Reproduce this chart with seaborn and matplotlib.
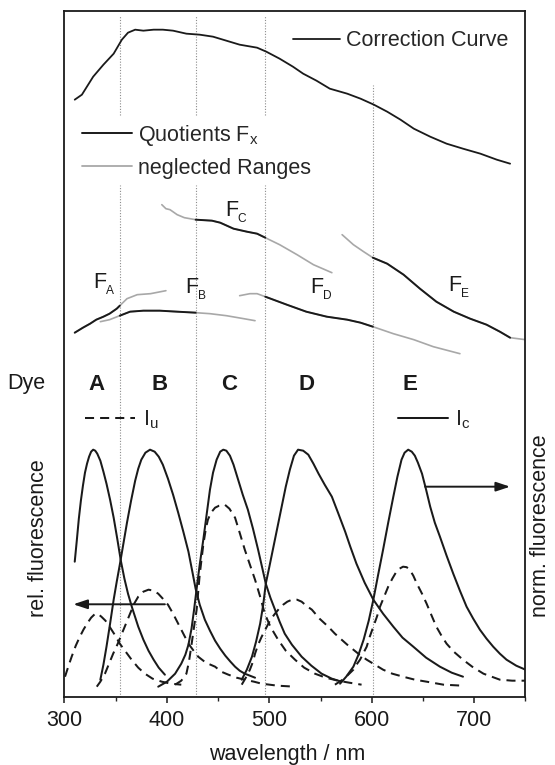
import numpy as np
import matplotlib
matplotlib.use("Agg")
import matplotlib.pyplot as plt
from matplotlib.lines import Line2D
from matplotlib.ticker import MultipleLocator
import seaborn as sns

# ---------------- data (wavelength in nm, signal in arbitrary units) ----------------
corr_wl = [310, 317, 328, 338, 348, 356, 362, 369, 377, 387, 396, 406, 419, 432, 445, 458, 471, 488,
           497, 510, 523, 533, 546, 559, 576, 589, 602, 615, 628, 641, 657, 673, 689, 706, 722, 735]
corr_y = [597, 602, 620, 632, 643, 657, 664, 667, 666, 667, 667, 666, 663, 662, 660, 656, 652, 649,
          645, 638, 630, 623, 616, 608, 603, 598, 592, 585, 577, 568, 560, 553, 548, 543, 537, 533]

fa_wl = [310, 318, 325, 331, 338, 344, 351, 354, 361, 371, 384, 399]
fa_y = [364, 369, 373, 377, 380, 383, 388, 391, 398, 402, 403, 406]
fb_wl = [335, 344, 354, 364, 377, 393, 410, 428, 442, 458, 475, 486]
fb_y = [375, 377, 381, 385, 386, 386, 385, 384, 383, 381, 378, 376]
fc_wl = [395, 399, 403, 410, 417, 428, 444, 452, 465, 478, 488, 496, 510, 527, 543, 561]
fc_y = [492, 488, 487, 482, 479, 477, 476, 474, 468, 465, 463, 459, 452, 442, 432, 424]
fd_wl = [471, 481, 488, 496, 517, 536, 556, 576, 589, 601, 621, 641, 660, 686]
fd_y = [401, 403, 403, 400, 392, 385, 380, 377, 374, 370, 363, 357, 350, 343]
fe_wl = [571, 582, 592, 601, 615, 631, 647, 663, 680, 696, 712, 725, 735, 750]
fe_y = [462, 452, 445, 439, 433, 422, 408, 395, 385, 378, 372, 365, 359, 357]

dye_names = ["A", "B", "C", "D", "E"]
dye_label_wl = [331, 393, 461, 536, 637]
crossings = [354, 428, 496, 601]           # dotted lines
used_ranges = [(310, 354), (354, 428), (428, 496), (496, 601), (601, 735)]
f_label_wl = [328, 418, 457, 540, 675]
f_label_y = [409, 404, 481, 404, 406]

# corrected, normalised spectra I_c
ic_a_wl = [310, 312, 314, 316, 318, 320, 322, 324, 326, 328, 330, 332, 335, 338, 341, 344.5, 348, 351.5, 355,
           358.5, 362, 366, 372, 377, 382, 387, 392, 398]
ic_a_y = [135, 156, 178, 196, 211, 224, 233, 240, 245, 247, 246, 243, 236, 225, 213, 197, 179, 158, 136,
          118, 103, 89, 70, 57, 46, 37, 29, 22]
ic_b_wl = [335, 338, 341, 344.5, 348, 351, 354, 357.5, 361, 365, 369, 372, 375, 379, 383.5, 388, 392, 396, 401,
           406, 411, 416, 421, 425, 428, 432, 437, 442, 447, 452, 457, 462, 466.5, 471, 476, 481, 486]
ic_b_y = [17, 32, 50, 73, 97, 115, 132, 153, 174, 196, 216, 228, 237, 244, 247, 245, 240, 232, 218,
          202, 184, 165, 145, 124, 108, 92, 77, 66, 56, 48, 41, 35, 30, 26, 23, 21, 19]
ic_c_wl = [391.5, 400, 408, 414, 418, 421, 424, 426.5, 429, 432, 435.5, 439, 442, 445, 448.5, 452, 455, 458,
           461.5, 465, 469.5, 474, 479, 484, 489, 493, 496.5, 501, 505.5, 510, 515, 522, 531.5, 541, 551, 561, 570.5]
ic_c_y = [10, 15, 23, 33, 42, 52, 68, 87, 108, 132, 157, 184, 207, 224, 237, 245, 247, 246,
          241, 232, 217, 202, 187, 168, 147, 129, 113, 99, 87, 75, 63, 52, 40, 31, 23, 18, 15]
ic_d_wl = [473, 478, 483, 487, 491, 494, 496.5, 500, 504, 508, 512, 516, 520, 524, 528, 533, 538, 543, 548,
           554, 561, 567, 574, 579, 585, 593, 601.5, 611, 621, 630, 640.5, 653, 666.5, 678, 689]
ic_d_y = [17, 27, 40, 55, 73, 92, 113, 130, 150, 170, 190, 210, 227, 241, 247, 246, 242, 233, 223,
          212, 200, 184, 165, 150, 133, 114, 97, 83, 70, 59, 50, 39, 30, 24, 20]
ic_e_wl = [569, 575, 582, 587, 592, 597, 601.5, 606, 611, 616, 621, 625, 629, 632, 635.5, 639, 642, 645, 649,
           653, 657, 661.5, 666.5, 673, 679.5, 686, 692.5, 699, 705.5, 712, 718.5, 725, 731.5, 741, 750]
ic_e_y = [13, 20, 30, 42, 57, 76, 97, 121, 147, 174, 200, 220, 237, 244, 247, 245, 241, 234, 223,
          207, 190, 174, 160, 141, 123, 106, 90, 78, 67, 58, 50, 43, 37, 31, 27]

# uncorrected spectra I_u
iu_a_wl = [300.5, 304, 307, 311, 315, 318.5, 322, 326, 330, 333, 336, 340, 344, 349, 354, 359, 365.5, 372,
           378.5, 386, 395, 404, 414]
iu_a_y = [20, 31, 40, 51, 60, 67, 73, 79, 83, 82.5, 80, 76, 70, 62, 53, 46, 37, 29, 23, 18, 15, 13, 12]
iu_b_wl = [331.5, 335, 339.5, 343.5, 347.5, 352, 356, 360, 364, 368, 372, 377, 382, 387, 391.5, 396, 401, 406,
           411, 416, 421, 426, 430.5, 438, 447, 453, 460, 468, 476, 485, 492.5, 508, 525]
iu_b_y = [10, 15, 23, 33, 43, 53, 63, 73, 83, 93, 100, 105, 107, 106, 103, 98, 92, 83,
          73, 63, 53, 46, 40, 34, 30, 25, 22, 19, 17, 15, 13, 11, 10]
iu_c_wl = [408, 414, 419, 421.5, 424, 426.5, 429, 432, 435.5, 438, 440, 443, 447, 451, 456.5, 461, 466.5, 471,
           476, 481, 486, 491, 495.5, 501, 508.5, 516, 525, 534, 544.5, 555, 567, 578, 590]
iu_c_y = [12, 16, 23, 35, 52, 70, 87, 122, 152, 168, 177, 184, 189, 191, 192, 188, 179, 164,
          147, 132, 117, 100, 83, 70, 57, 46, 37, 29, 23, 19, 16, 14, 12]
iu_d_wl = [473, 477, 481, 484, 486, 489, 492.5, 497.5, 501, 505.5, 509.5, 513.5, 517.5, 522, 527, 531.5, 536,
           541.5, 549, 557.5, 564, 570.5, 576, 582, 588, 595, 603, 611, 620, 630.5, 642, 653.5, 670, 689]
iu_d_y = [12, 19, 27, 35, 43, 52, 60, 70, 77, 83, 88, 92, 95, 97, 97, 95, 91,
          87, 78, 70, 63, 57, 52, 47, 42, 37, 32, 27, 23, 20, 17, 15, 12, 11]
iu_e_wl = [564, 573, 582, 585, 588.5, 592, 595, 598, 601.5, 605, 608, 612, 616, 620, 624, 627, 630.5, 634, 637,
           640.5, 644, 649, 653.5, 658, 663, 668, 673, 680, 689, 698, 709, 717, 725, 737, 750]
iu_e_y = [12, 18, 27, 32, 37, 44, 50, 60, 70, 80, 90, 100, 110, 118, 125, 128, 130, 129.5, 127,
          121, 113, 103, 93, 82, 70, 61, 53, 45, 37, 30, 23, 20, 17, 16, 16]

x_ticks = [300, 400, 500, 600, 700]

# ---------------- style ----------------
sns.set_theme(style="ticks")
plt.rcParams["font.family"] = ["Liberation Sans", "DejaVu Sans"]
plt.rcParams["mathtext.default"] = "regular"

BLACK = "#1a1a1a"
GRAY = "#a8a8a8"
DOT = "#8c8c8c"
FS = 15.5
DASH = (0, (4.5, 3))

fig = plt.figure(figsize=(5.55, 7.65), dpi=100)
ax = fig.add_axes([0.1162, 0.0893, 0.8306, 0.8957])


def line(x, y, **kw):
    sns.lineplot(x=list(x), y=list(y), ax=ax, sort=False, estimator=None, legend=False, **kw)


# dotted separators (gap where the legend sits)
for i, c in enumerate(crossings):
    if i < 3:
        ax.axvline(c, ymin=0, ymax=0.747, color=DOT, lw=0.8, ls=(0, (1, 1.5)), zorder=0)
        ax.axvline(c, ymin=0.849, ymax=0.995, color=DOT, lw=0.8, ls=(0, (1, 1.5)), zorder=0)
    else:
        ax.axvline(c, ymin=0, ymax=0.893, color=DOT, lw=0.8, ls=(0, (1, 1.5)), zorder=0)

# correction curve
line(corr_wl, corr_y, color=BLACK, lw=1.3)

# quotients
f_sets = [(fa_wl, fa_y), (fb_wl, fb_y), (fc_wl, fc_y), (fd_wl, fd_y), (fe_wl, fe_y)]
for (wl, yy), (lo, hi) in zip(f_sets, used_ranges):
    wl = np.array(wl, float)
    yy = np.array(yy, float)
    line(wl, yy, color=GRAY, lw=1.2)
    m = (wl >= lo) & (wl <= hi)
    line(wl[m], yy[m], color=BLACK, lw=1.4)

for name, xw, yv in zip(dye_names, f_label_wl, f_label_y):
    ax.text(xw, yv, "F", fontsize=FS, ha="left", va="baseline", color=BLACK)
    ax.annotate(name, xy=(xw, yv), xytext=(9.0, -4.5), textcoords="offset points",
                fontsize=FS * 0.55, ha="left", va="baseline", color=BLACK)

# spectra
for wl, yy in [(ic_a_wl, ic_a_y), (ic_b_wl, ic_b_y), (ic_c_wl, ic_c_y), (ic_d_wl, ic_d_y), (ic_e_wl, ic_e_y)]:
    line(wl, yy, color=BLACK, lw=1.45)
for wl, yy in [(iu_a_wl, iu_a_y), (iu_b_wl, iu_b_y), (iu_c_wl, iu_c_y), (iu_d_wl, iu_d_y), (iu_e_wl, iu_e_y)]:
    line(wl, yy, color=BLACK, lw=1.45, linestyle=DASH)

# dye names
for name, xw in zip(dye_names, dye_label_wl):
    ax.text(xw, 307, name, fontsize=FS + 0.5, fontweight="bold", ha="center", va="baseline", color=BLACK)
fig.text(26.7 / 555, 1 - 389.4 / 765, "Dye", fontsize=FS, ha="center", va="baseline", color=BLACK)

# arrows
arr = dict(arrowstyle="-|>,head_length=0.6,head_width=0.2", color=BLACK, lw=1.4,
           mutation_scale=14, shrinkA=0, shrinkB=0)
ax.annotate("", xy=(308.6, 92.4), xytext=(398, 92.4), arrowprops=arr)
ax.annotate("", xy=(735, 210), xytext=(652, 210), arrowprops=arr)

# legends
common = dict(frameon=False, fontsize=FS, borderpad=0, borderaxespad=0, loc="center left")
leg1 = ax.legend([Line2D([], [], color=BLACK, lw=1.3)], ["Correction Curve"],
                 bbox_to_anchor=(0.4963, 0.957), handlelength=2.17, handletextpad=0.3, **common)
ax.add_artist(leg1)
leg2 = ax.legend([Line2D([], [], color=BLACK, lw=1.4), Line2D([], [], color=GRAY, lw=1.3)],
                 ["Quotients F$_x$", "neglected Ranges"],
                 bbox_to_anchor=(0.0373, 0.7967), handlelength=2.33, handletextpad=0.27,
                 labelspacing=0.45, **common)
ax.add_artist(leg2)
leg3 = ax.legend([Line2D([], [], color=BLACK, lw=1.45, linestyle=DASH)], ["I$_u$"],
                 bbox_to_anchor=(0.0445, 0.404), handlelength=2.33, handletextpad=0.38, **common)
ax.add_artist(leg3)
leg4 = ax.legend([Line2D([], [], color=BLACK, lw=1.45)], ["I$_c$"],
                 bbox_to_anchor=(0.7241, 0.404), handlelength=2.33, handletextpad=0.3, **common)

# axes
ax.set_xlim(300, 750)
ax.set_ylim(0, 685.2)
ax.set_xticks(x_ticks)
ax.xaxis.set_minor_locator(MultipleLocator(50))
ax.set_yticks([])
ax.tick_params(axis="x", which="major", direction="out", length=4.5, width=1.1, pad=5,
               labelsize=FS, colors=BLACK, top=False, bottom=True)
ax.tick_params(axis="x", which="minor", direction="out", length=3, width=1.0, top=False, bottom=True)
for s in ax.spines.values():
    s.set_visible(True)
    s.set_linewidth(1.3)
    s.set_color(BLACK)
ax.set_xlabel("")
ax.set_ylabel("")
fig.text(286.7 / 555, 1 - 760 / 765, "wavelength / nm", fontsize=FS, ha="center", va="baseline", color=BLACK)
fig.text(39 / 555, 1 - 617 / 765, "rel. fluorescence", fontsize=FS, rotation=90,
         ha="center", va="bottom", color=BLACK)
fig.text(541 / 555, 1 - 617 / 765, "norm. fluorescence", fontsize=FS, rotation=90,
         ha="center", va="bottom", color=BLACK)

fig.savefig("out.png", dpi=100, facecolor="white")
